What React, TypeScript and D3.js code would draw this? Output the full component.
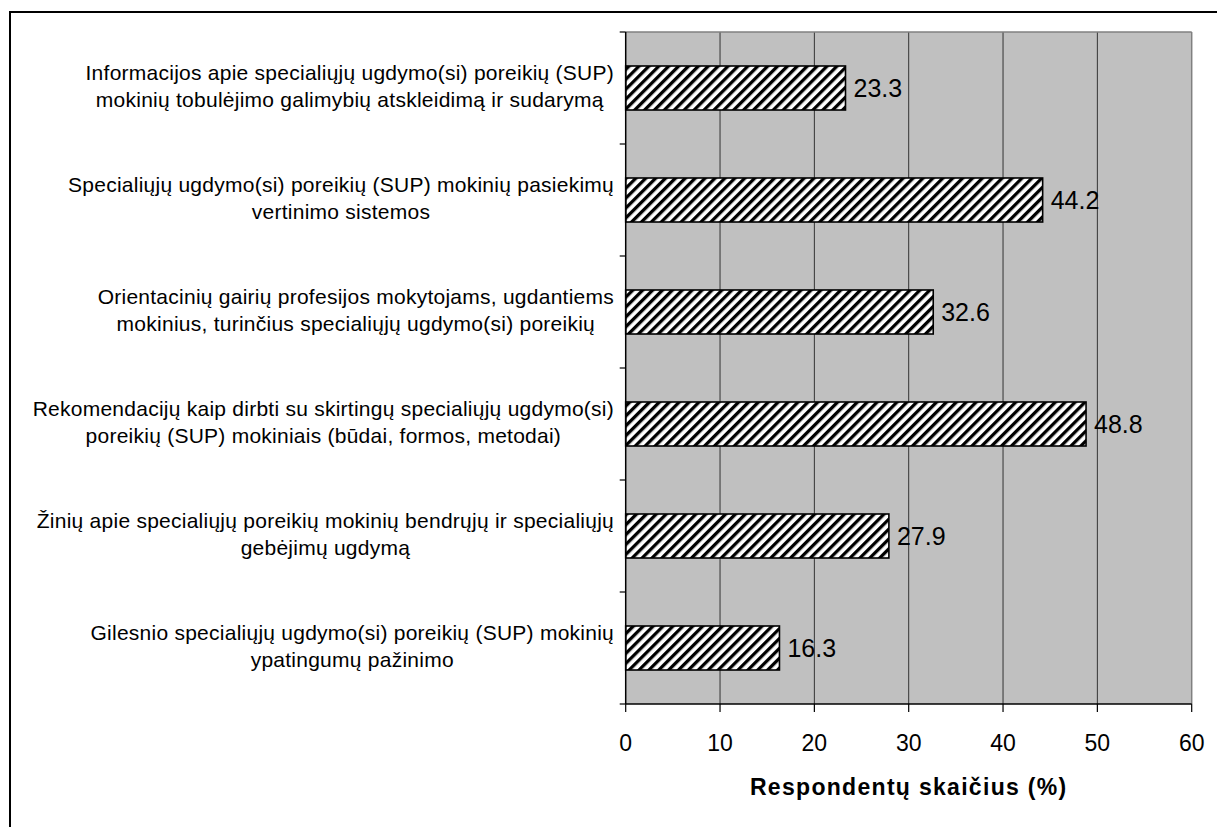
import React from "react";
import * as d3 from "d3";

const categoryLines: string[][] = [
  ["Informacijos apie specialiųjų ugdymo(si) poreikių (SUP)", "mokinių tobulėjimo galimybių atskleidimą ir sudarymą"],
  ["Specialiųjų ugdymo(si) poreikių (SUP) mokinių pasiekimų", "vertinimo sistemos"],
  ["Orientacinių gairių profesijos mokytojams, ugdantiems", "mokinius, turinčius specialiųjų ugdymo(si) poreikių"],
  ["Rekomendacijų kaip dirbti su skirtingų specialiųjų ugdymo(si)", "poreikių (SUP) mokiniais (būdai, formos, metodai)"],
  ["Žinių apie specialiųjų poreikių mokinių bendrųjų ir specialiųjų", "gebėjimų ugdymą"],
  ["Gilesnio specialiųjų ugdymo(si) poreikių (SUP) mokinių", "ypatingumų pažinimo"],
];
const values: number[] = [23.3, 44.2, 32.6, 48.8, 27.9, 16.3];
const xTicks: number[] = [0, 10, 20, 30, 40, 50, 60];
const axisTitle = "Respondentų skaičius (%)";

const W = 1217;
const H = 827;
const FONT = "'Liberation Sans', Arial, sans-serif";
const CAT_FS = 21;
const CAT_LS = 0.25;

const measureCtx: CanvasRenderingContext2D | null =
  typeof document !== "undefined" ? document.createElement("canvas").getContext("2d") : null;
function textWidth(t: string, size: number, ls: number): number {
  const n = Array.from(t).length;
  if (!measureCtx) return n * size * 0.5 + n * ls;
  measureCtx.font = `${size}px 'Liberation Sans', Arial, sans-serif`;
  return measureCtx.measureText(t).width + n * ls;
}

export default function App() {
  const left = 625.7;
  const right = 1191.7;
  const top = 32;
  const bottom = 704;

  const x = d3.scaleLinear().domain([0, 60]).range([left, right]);
  const idx = values.map((_, i) => String(i));
  const y = d3.scaleBand().domain(idx).range([top, bottom]).paddingInner(0.607).paddingOuter(0.3035);
  const band = d3.scaleBand().domain(idx).range([top, bottom]);

  const labelRight = 614;

  return (
    <div style={{ position: "absolute", left: 0, top: 0, width: W, height: H, background: "#fff" }}>
      <svg width={W} height={H} style={{ display: "block", fontFamily: FONT }}>
        <defs>
          <pattern id="hatch" patternUnits="userSpaceOnUse" width={7} height={7} patternTransform="rotate(45)">
            <rect x={0} y={0} width={7} height={7} fill="#fff" />
            <rect x={0} y={0} width={3.3} height={7} fill="#000" />
          </pattern>
        </defs>
        <rect x={0} y={0} width={W} height={H} fill="#fff" />
        {/* outer chart border */}
        <line x1={10} y1={12} x2={10} y2={H + 5} stroke="#000" strokeWidth={2} />
        <line x1={9} y1={12} x2={W + 5} y2={12} stroke="#000" strokeWidth={2} />

        {/* plot background */}
        <rect x={left} y={top} width={right - left} height={bottom - top} fill="#C0C0C0" />
        {/* grid lines */}
        {xTicks.slice(1, -1).map((t) => (
          <line key={t} x1={x(t)} x2={x(t)} y1={top} y2={bottom} stroke="#333" strokeWidth={1} />
        ))}
        {/* plot border top/right */}
        <line x1={left} x2={right} y1={top} y2={top} stroke="#808080" strokeWidth={1.5} />
        <line x1={right} x2={right} y1={top} y2={bottom} stroke="#808080" strokeWidth={1.5} />

        {/* bars */}
        {values.map((v, i) => (
          <rect
            key={i}
            x={x(0)}
            y={y(String(i))}
            width={x(v) - x(0)}
            height={y.bandwidth()}
            fill="url(#hatch)"
            stroke="#000"
            strokeWidth={1.6}
          />
        ))}
        {/* value labels */}
        {values.map((v, i) => (
          <text key={i} x={x(v) + 8} y={(y(String(i)) as number) + y.bandwidth() / 2 + 9} fontSize={25} fill="#000">
            {v.toFixed(1)}
          </text>
        ))}

        {/* y axis */}
        <line x1={left} x2={left} y1={top} y2={bottom} stroke="#000" strokeWidth={1.5} />
        {d3.range(values.length + 1).map((k) => {
          const yy = top + k * band.bandwidth();
          return <line key={k} x1={left - 6} x2={left} y1={yy} y2={yy} stroke="#000" strokeWidth={1.2} />;
        })}
        {/* x axis */}
        <line x1={left} x2={right} y1={bottom} y2={bottom} stroke="#000" strokeWidth={1.5} />
        {xTicks.map((t) => (
          <g key={t}>
            <line x1={x(t)} x2={x(t)} y1={bottom} y2={bottom + 8} stroke="#000" strokeWidth={1.2} />
            <text x={x(t)} y={751} textAnchor="middle" fontSize={23} fill="#000">
              {t}
            </text>
          </g>
        ))}
        <text x={(left + right) / 2} y={795} textAnchor="middle" fontSize={23} fontWeight="bold" fill="#000" letterSpacing={1.3}>
          {axisTitle}
        </text>

        {/* category labels */}
        {categoryLines.map((lines, i) => {
          const maxW = Math.max(...lines.map((l) => textWidth(l, CAT_FS, CAT_LS)));
          const cx = labelRight - maxW / 2;
          const cy = (band(String(i)) as number) + band.bandwidth() / 2;
          return (
            <text key={i} textAnchor="middle" fontSize={CAT_FS} fill="#000" letterSpacing={CAT_LS}>
              {lines.map((l, j) => (
                <tspan key={j} x={cx} y={cy - 8 + j * 27}>
                  {l}
                </tspan>
              ))}
            </text>
          );
        })}
      </svg>
    </div>
  );
}
